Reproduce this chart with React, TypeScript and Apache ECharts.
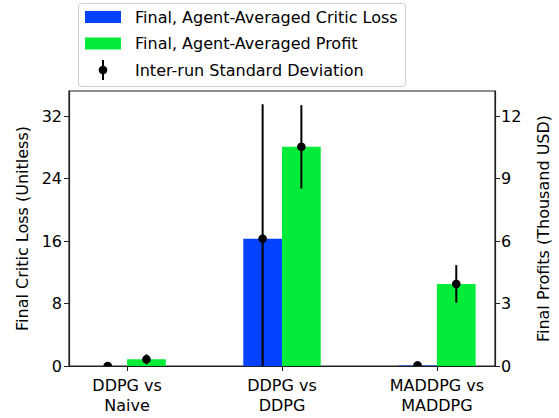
import React, { useEffect, useRef } from "react";
import * as echarts from "echarts";

const categories = ["DDPG vs\nNaive", "DDPG vs\nDDPG", "MADDPG vs\nMADDPG"];
const criticLoss = [0.0, 16.3, 0.08];
const criticLossStd = [0.0, 17.2, 0.02];
const profits = [0.32, 10.52, 3.94];
const profitsStd = [0.24, 2.0, 0.9];
const leftTicks = [0, 8, 16, 24, 32];
const rightTicks = [0, 3, 6, 9, 12];

const BLUE = "#0343FF";
const GREEN = "#04EC3A";
const FONT = "DejaVu Sans";
const BAR_W = 0.25;

function barRender(color: string) {
  return (params: any, api: any) => {
    const x = api.value(0);
    const y = api.value(1);
    const p0 = api.coord([x - BAR_W / 2, 0]);
    const p1 = api.coord([x + BAR_W / 2, y]);
    return {
      type: "rect",
      shape: { x: p0[0], y: p1[1], width: p1[0] - p0[0], height: p0[1] - p1[1] },
      style: { fill: color },
    };
  };
}

function errRender(params: any, api: any) {
  const x = api.value(0);
  const m = api.value(1);
  const s = api.value(2);
  const top = api.coord([x, m + s]);
  const bot = api.coord([x, m - s]);
  const c = api.coord([x, m]);
  return {
    type: "group",
    children: [
      { type: "line", shape: { x1: top[0], y1: top[1], x2: bot[0], y2: bot[1] }, style: { stroke: "#000", lineWidth: 2 } },
      { type: "circle", shape: { cx: c[0], cy: c[1], r: 4.3 }, style: { fill: "#000" } },
    ],
  };
}

export default function App() {
  const ref = useRef<HTMLDivElement>(null);
  useEffect(() => {
    if (!ref.current) return;
    const chart = echarts.init(ref.current, undefined, { renderer: "svg" });
    const xs = categories.map((_, i) => i);
    const labelStyle = { fontFamily: FONT, fontSize: 16, color: "#000" };
    chart.setOption({
      animation: false,
      grid: { left: 69, right: 62, top: 91, bottom: 52, show: true, borderColor: "#222", borderWidth: 1.2, backgroundColor: "transparent" },
      xAxis: {
        type: "value",
        min: -0.375,
        max: 2.375,
        splitLine: { show: false },
        axisLine: { show: true, onZero: false, lineStyle: { color: "#222", width: 1.2 } },
        axisTick: { show: true, customValues: xs, length: 5, lineStyle: { color: "#222" } },
        axisLabel: { ...labelStyle, customValues: xs, lineHeight: 20, margin: 9, formatter: (v: number) => categories[Math.round(v)] },
      },
      yAxis: [
        {
          type: "value",
          min: 0,
          max: 35.2,
          name: "Final Critic Loss (Unitless)",
          nameLocation: "middle",
          nameGap: 36,
          nameTextStyle: labelStyle,
          splitLine: { show: false },
          axisLine: { show: true, onZero: false, lineStyle: { color: "#222", width: 1.2 } },
          axisTick: { show: true, customValues: leftTicks, length: 5, lineStyle: { color: "#222" } },
          axisLabel: { ...labelStyle, customValues: leftTicks, margin: 7 },
        },
        {
          type: "value",
          min: 0,
          max: 13.2,
          position: "right",
          name: "Final Profits (Thousand USD)",
          nameLocation: "middle",
          nameGap: 40,
          nameRotate: 90,
          nameTextStyle: labelStyle,
          splitLine: { show: false },
          axisLine: { show: true, onZero: false, lineStyle: { color: "#222", width: 1.2 } },
          axisTick: { show: true, customValues: rightTicks, length: 5, lineStyle: { color: "#222" } },
          axisLabel: { ...labelStyle, customValues: rightTicks, margin: 6 },
        },
      ],
      series: [
        { type: "custom", yAxisIndex: 0, clip: true, renderItem: barRender(BLUE), data: xs.map((x, i) => [x - 0.125, criticLoss[i]]) },
        { type: "custom", yAxisIndex: 1, clip: true, renderItem: barRender(GREEN), data: xs.map((x, i) => [x + 0.125, profits[i]]) },
        { type: "custom", yAxisIndex: 0, clip: true, z: 5, renderItem: errRender, data: xs.map((x, i) => [x - 0.125, criticLoss[i], criticLossStd[i]]) },
        { type: "custom", yAxisIndex: 1, clip: true, z: 5, renderItem: errRender, data: xs.map((x, i) => [x + 0.125, profits[i], profitsStd[i]]) },
      ],
      graphic: [
        { type: "rect", shape: { x: 78.5, y: 3.5, width: 327, height: 83, r: 3 }, style: { fill: "rgba(255,255,255,0.8)", stroke: "#ccc", lineWidth: 1 }, z: 10 },
        { type: "rect", shape: { x: 85, y: 11, width: 36, height: 12 }, style: { fill: BLUE }, z: 11 },
        { type: "rect", shape: { x: 85, y: 37.5, width: 36, height: 12 }, style: { fill: GREEN }, z: 11 },
        { type: "line", shape: { x1: 103, y1: 60, x2: 103, y2: 80 }, style: { stroke: "#000", lineWidth: 2 }, z: 11 },
        { type: "circle", shape: { cx: 103, cy: 70, r: 4.3 }, style: { fill: "#000" }, z: 11 },
        { type: "text", x: 135, y: 17, style: { text: "Final, Agent-Averaged Critic Loss", fontFamily: FONT, fontSize: 16, fill: "#000", verticalAlign: "middle" }, z: 11 },
        { type: "text", x: 135, y: 43.5, style: { text: "Final, Agent-Averaged Profit", fontFamily: FONT, fontSize: 16, fill: "#000", verticalAlign: "middle" }, z: 11 },
        { type: "text", x: 135, y: 70, style: { text: "Inter-run Standard Deviation", fontFamily: FONT, fontSize: 16, fill: "#000", verticalAlign: "middle" }, z: 11 },
      ],
    });
    return () => chart.dispose();
  }, []);
  return <div ref={ref} style={{ width: 559, height: 418, position: "absolute", left: 0, top: 0 }} />;
}
